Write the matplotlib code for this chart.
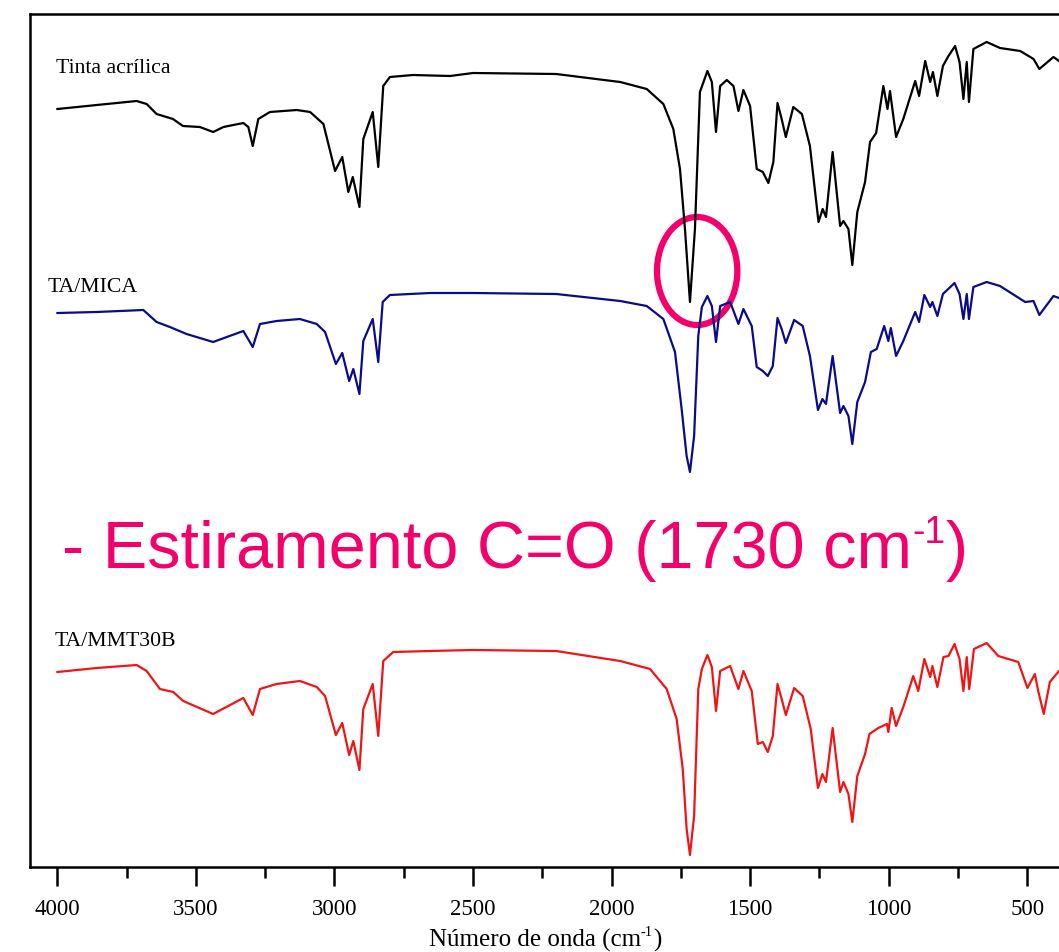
import matplotlib
matplotlib.use("Agg")
import matplotlib.pyplot as plt
from matplotlib.patches import Ellipse

# FTIR spectra (wavenumber in cm-1, transmittance in a.u., offset per sample)
wn_tinta = [4000, 3858, 3714, 3678, 3642, 3583, 3547, 3486, 3438, 3401, 3329, 3311, 3295, 3275,
            3233, 3136, 3088, 3040, 2998, 2972, 2950, 2934, 2910, 2896, 2862, 2842, 2824, 2800,
            2717, 2583, 2500, 2200, 1969, 1873, 1813, 1777, 1753, 1735, 1717, 1699, 1681, 1654,
            1638, 1623, 1608, 1584, 1560, 1542, 1524, 1500, 1476, 1454, 1434, 1416, 1401, 1386,
            1371, 1344, 1313, 1284, 1253, 1238, 1226, 1202, 1175, 1163, 1145, 1131, 1113, 1085,
            1067, 1045, 1019, 1004, 995, 973, 947, 904, 890, 868, 850, 840, 824, 804, 784, 760,
            744, 730, 718, 710, 694, 646, 598, 525, 477, 456, 405, 385]
t_tinta = [758, 762, 766, 763, 753, 748, 741, 740, 735, 740, 744, 740, 721, 748,
           755, 757, 755, 743, 696, 710, 675, 690, 660, 728, 755, 700, 781, 790,
           792, 791, 794, 793, 785, 778, 763, 738, 698, 638, 565, 638, 775, 796,
           785, 735, 781, 787, 781, 756, 777, 761, 698, 695, 684, 705, 764, 748,
           730, 760, 753, 721, 645, 658, 650, 715, 641, 646, 638, 602, 655, 685,
           725, 734, 781, 758, 776, 730, 748, 786, 771, 806, 785, 795, 771, 801, 811, 821,
           805, 768, 805, 765, 818, 825, 819, 816, 808, 798, 810, 806]

wn_mica = [4000, 3858, 3690, 3642, 3594, 3534, 3438, 3329, 3295, 3269, 3209, 3125, 3064, 3034,
           2995, 2972, 2947, 2932, 2910, 2896, 2862, 2842, 2826, 2800, 2655, 2500, 2200, 1969,
           1873, 1813, 1771, 1747, 1729, 1717, 1702, 1687, 1674, 1654, 1638, 1623, 1608, 1572,
           1542, 1524, 1494, 1476, 1454, 1436, 1418, 1401, 1386, 1371, 1341, 1310, 1284, 1255,
           1239, 1226, 1202, 1175, 1163, 1145, 1131, 1113, 1085, 1064, 1043, 1016, 1001, 992,
           973, 947, 904, 890, 871, 850, 842, 824, 804, 762, 744, 730, 718, 710, 694, 646, 598,
           507, 477, 456, 405, 385]
t_mica = [554, 555, 557, 545, 540, 533, 525, 536, 520, 543, 546, 548, 543, 535,
          503, 514, 486, 498, 473, 526, 548, 505, 565, 572, 574, 574, 573, 566,
          561, 548, 515, 458, 411, 395, 431, 531, 560, 571, 561, 525, 561, 565,
          543, 558, 541, 500, 496, 491, 501, 549, 538, 524, 547, 541, 511, 457,
          468, 463, 511, 454, 461, 451, 423, 465, 485, 515, 518, 541, 526, 539,
          511, 526, 555, 545, 572, 560, 565, 551, 573, 584, 573, 548, 573, 548, 580, 585, 581,
          565, 566, 552, 571, 569]

wn_mmt = [4000, 3858, 3714, 3678, 3630, 3582, 3546, 3438, 3329, 3295, 3269, 3209, 3125, 3064,
          3034, 2995, 2972, 2947, 2932, 2910, 2896, 2862, 2842, 2824, 2788, 2655, 2500, 2200,
          1969, 1861, 1801, 1765, 1743, 1729, 1717, 1702, 1687, 1674, 1654, 1638, 1623, 1608,
          1572, 1542, 1524, 1494, 1472, 1454, 1436, 1418, 1401, 1386, 1371, 1341, 1310, 1281,
          1255, 1239, 1226, 1202, 1175, 1163, 1145, 1131, 1113, 1085, 1069, 1037, 1006, 1001,
          989, 973, 947, 911, 893, 871, 850, 842, 824, 802, 784, 762, 744, 730, 718, 709, 692,
          646, 604, 532, 499, 472, 460, 440, 418, 385]
t_mmt = [195, 199, 202, 196, 178, 175, 166, 153, 169, 152, 178, 183, 186, 180,
         171, 132, 144, 112, 126, 97, 158, 183, 131, 206, 215, 216, 217, 216,
         206, 198, 178, 148, 98, 38, 12, 51, 178, 198, 212, 200, 156, 196,
         201, 178, 196, 176, 123, 125, 115, 131, 183, 168, 152, 179, 171, 138,
         79, 93, 85, 139, 75, 85, 73, 45, 91, 113, 133, 139, 143, 135,
         159, 141, 160, 191, 176, 208, 190, 201, 180, 210, 211, 223, 208, 176, 210, 178, 218,
         224, 211, 205, 179, 193, 176, 153, 185, 196]

names = ["Tinta acrílica", "TA/MICA", "TA/MMT30B"]
colors = ["black", "#0b0b8a", "#f21414"]
xticks = [4000, 3500, 3000, 2500, 2000, 1500, 1000, 500]
highlight = "#f5006a"

serif = "Liberation Serif"
W, H = 1059, 953

fig = plt.figure(figsize=(W / 100, H / 100), dpi=100)
ax = fig.add_axes([30 / W, 85 / H, 1029 / W, 853 / H])
renderer = fig.canvas.get_renderer()


def rich_text(x, y, parts, ha="left", **kw):
    # parts: (string, fontsize, rise in px); x, y in px from bottom-left, y = baseline
    texts = []
    for s, fs, rise in parts:
        t = fig.text(0, 0, s, fontsize=fs, va="baseline", ha="left", **kw)
        texts.append((t, rise))
    widths = [t.get_window_extent(renderer).width for t, _ in texts]
    cx = x - sum(widths) / 2 if ha == "center" else x
    for (t, rise), w in zip(texts, widths):
        t.set_position((cx / W, (y + rise) / H))
        cx += w


series = [(wn_tinta, t_tinta), (wn_mica, t_mica), (wn_mmt, t_mmt)]
for (wn, t), c in zip(series, colors):
    ax.plot(wn, t, color=c, lw=1.6, solid_joinstyle="round")

ax.set_xlim(4099, 385)
ax.set_ylim(0, 853)

# sample names just above each trace
label_pos = [(4005, 800), (4035, 581), (4012, 226)]
for (x, y), n in zip(label_pos, names):
    ax.text(x, y, n, fontsize=15.7, family=serif, va="center", ha="left")

ax.set_xticks(xticks)
ax.set_xticks(range(3750, 300, -500), minor=True)
ax.set_xticklabels([str(v) for v in xticks], fontsize=16.5, family=serif)
ax.set_yticks([])
ax.tick_params(axis="x", which="major", direction="out", length=14, width=1.8, pad=8)
ax.tick_params(axis="x", which="minor", direction="out", length=8, width=1.8)
for s in ["left", "bottom", "top"]:
    ax.spines[s].set_linewidth(1.8)
ax.spines["right"].set_visible(False)

# x label with a small raised "-1"
rich_text(545, 6, [("Número de onda (cm", 18, 0), ("-1", 10.5, 11), (")", 18, 0)],
          ha="center", family=serif)

# C=O band highlight
ax.add_patch(Ellipse((1691, 596), 290, 108, fill=False, ec=highlight, lw=4.5))
rich_text(62, H - 568, [("- Estiramento C=O (1730 cm", 48, 0), ("-1", 27, 25), (")", 48, 0)],
          color=highlight, family="Liberation Sans")

fig.savefig("out.png", dpi=100, facecolor="white")
